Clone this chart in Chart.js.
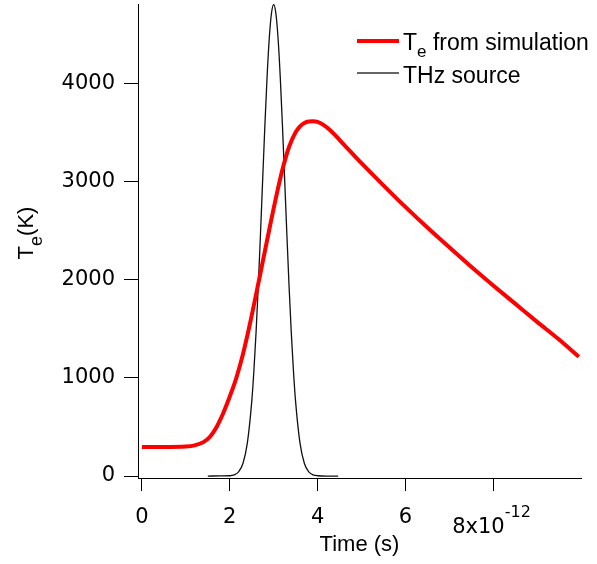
<!DOCTYPE html>
<html>
<head>
<meta charset="utf-8">
<script src="https://cdn.jsdelivr.net/npm/chart.js@4/dist/chart.umd.min.js"></script>
<style>
  body { margin: 0; background: #fff; }
  canvas { display: block; }
</style>
</head>
<body>
<canvas id="myChart" width="597" height="564"></canvas>
<script>
// electron temperature (red), time in units of 1e-12 s
const teTime = [0, 0.5, 1.0, 1.2, 1.4, 1.55, 1.7, 1.85, 2.0, 2.15, 2.3, 2.45, 2.6, 2.75, 2.9, 3.05, 3.2, 3.35, 3.5, 3.6, 3.7, 3.8, 3.9, 4.0, 4.15, 4.3, 4.6, 5.0, 5.5, 6.0, 6.5, 7.0, 7.5, 8.0, 8.5, 9.0, 9.5, 9.95];
const teValues = [295, 295, 300, 312, 345, 400, 500, 640, 810, 1000, 1240, 1530, 1850, 2180, 2510, 2830, 3120, 3350, 3500, 3560, 3595, 3610, 3612, 3605, 3570, 3515, 3375, 3185, 2960, 2740, 2530, 2330, 2130, 1940, 1755, 1570, 1390, 1215];

// THz source pulse (black)
const thzTime = [1.5, 1.8, 2.0, 2.1, 2.2, 2.3, 2.4, 2.5, 2.55, 2.6, 2.65, 2.7, 2.75, 2.8, 2.85, 2.9, 2.95, 3.0, 3.05, 3.1, 3.15, 3.2, 3.25, 3.3, 3.35, 3.4, 3.45, 3.5, 3.6, 3.7, 3.8, 3.9, 4.0, 4.2, 4.47];
const thzValues = [0, 1, 3, 12, 42, 128, 335, 755, 1074, 1470, 1940, 2466, 3023, 3570, 4064, 4457, 4712, 4800, 4712, 4457, 4064, 3570, 3023, 2466, 1940, 1470, 1074, 755, 335, 128, 42, 12, 3, 0, 0];

const xTicks = [0, 2, 4, 6, 8];
const yTicks = [0, 1000, 2000, 3000, 4000];
const seriesNames = ['from simulation', 'THz source'];

const tickFont = 'DejaVu Sans';
const textFont = 'Liberation Sans';

const toPoints = (xs, ys) => xs.map((x, i) => ({x: x, y: ys[i]}));

// legend, y title with subscript and the 8x10^-12 label
const extras = {
  id: 'extras',
  afterDraw(chart) {
    const ctx = chart.ctx;
    const xs = chart.scales.x;
    ctx.save();
    ctx.fillStyle = '#000';
    ctx.textAlign = 'left';
    ctx.textBaseline = 'alphabetic';

    // last x tick with exponent
    const px = xs.getPixelForValue(8);
    ctx.font = '21px "' + tickFont + '"';
    ctx.fillText('8x10', px - 41, 533);
    const w8 = ctx.measureText('8x10').width;
    ctx.font = '16px "' + tickFont + '"';
    ctx.fillText('-12', px - 41 + w8, 517);

    // legend
    const ds = chart.data.datasets;
    ctx.lineCap = 'butt';
    ctx.strokeStyle = ds[0].borderColor;
    ctx.lineWidth = 4;
    ctx.beginPath(); ctx.moveTo(357, 41); ctx.lineTo(399, 41); ctx.stroke();
    ctx.strokeStyle = '#333';
    ctx.lineWidth = 1.5;
    ctx.beginPath(); ctx.moveTo(357, 73); ctx.lineTo(399, 73); ctx.stroke();

    ctx.font = '23px "' + textFont + '"';
    ctx.fillText('T', 403, 50);
    let x = 403 + ctx.measureText('T').width;
    ctx.font = '17px "' + textFont + '"';
    ctx.fillText('e', x, 56.5);
    x += ctx.measureText('e').width;
    ctx.font = '23px "' + textFont + '"';
    ctx.fillText(' ' + seriesNames[0], x, 50);
    ctx.fillText(seriesNames[1], 403, 83);

    // y title
    ctx.translate(33, 233);
    ctx.rotate(-Math.PI / 2);
    ctx.font = '22px "' + textFont + '"';
    const wT = ctx.measureText('T').width;
    const wK = ctx.measureText('(K)').width;
    ctx.font = '18px "' + textFont + '"';
    const wE = ctx.measureText('e').width;
    let tx = -(wT + wE + wK) / 2;
    ctx.font = '22px "' + textFont + '"';
    ctx.fillText('T', tx, 0);
    tx += wT;
    ctx.font = '18px "' + textFont + '"';
    ctx.fillText('e', tx, 9);
    tx += wE;
    ctx.font = '22px "' + textFont + '"';
    ctx.fillText('(K)', tx, 0);
    ctx.restore();
  }
};

const ctx = document.getElementById('myChart');

const chart = new Chart(ctx, {
  type: 'line',
  data: {
    datasets: [{
      label: 'Te from simulation',
      data: toPoints(teTime, teValues),
      borderColor: '#ff0000',
      borderWidth: 4,
      pointRadius: 0,
      cubicInterpolationMode: 'monotone',
      fill: false
    }, {
      label: 'THz source',
      data: toPoints(thzTime, thzValues),
      borderColor: '#111',
      borderWidth: 1.3,
      pointRadius: 0,
      cubicInterpolationMode: 'monotone',
      fill: false
    }]
  },
  options: {
    responsive: false,
    animation: false,
    layout: { padding: { top: 4, right: 16, left: 0, bottom: 0 } },
    plugins: {
      legend: { display: false },
      tooltip: { enabled: false }
    },
    scales: {
      x: {
        type: 'linear',
        min: -0.09,
        max: 10.0,
        afterFit: s => {
          s.height = 86;
          s.paddingLeft = 0; s.paddingRight = 0;
        },
        afterBuildTicks: s => { s.ticks = xTicks.map(v => ({value: v})); },
        ticks: {
          padding: 14,
          color: '#000',
          maxRotation: 0,
          font: { family: tickFont, size: 21 },
          callback: v => (v === 8 ? '' : String(v))
        },
        grid: { drawOnChartArea: false, tickLength: 13, color: '#000', lineWidth: 1 },
        border: { display: true, color: '#000', width: 1 },
        title: {
          display: true,
          text: 'Time (s)',
          color: '#000',
          font: { family: textFont, size: 22 },
          padding: { top: 0, bottom: 6 }
        }
      },
      y: {
        min: -20,
        max: 4806,
        afterFit: s => {
          s.width = 138;
          s.paddingTop = 0; s.paddingBottom = 0;
        },
        afterBuildTicks: s => { s.ticks = yTicks.map(v => ({value: v})); },
        ticks: {
          padding: 9,
          color: '#000',
          font: { family: tickFont, size: 21 },
          callback: v => String(v)
        },
        grid: { drawOnChartArea: false, tickLength: 14, color: '#000', lineWidth: 1 },
        border: { display: true, color: '#000', width: 1 }
      }
    }
  },
  plugins: [extras]
});
</script>
</body>
</html>
